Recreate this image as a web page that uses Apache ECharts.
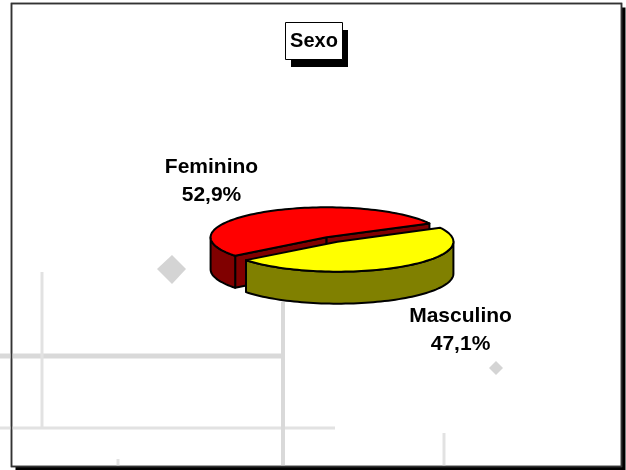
<!DOCTYPE html>
<html>
<head>
<meta charset="utf-8">
<script src="https://cdn.jsdelivr.net/npm/echarts@6/dist/echarts.min.js"></script>
<style>
  html, body { margin: 0; padding: 0; background: #fff; }
  #sexo { width: 626px; height: 470px; }
</style>
</head>
<body>
<div id="sexo"></div>
<script>
// dados do gráfico
var categories = ['Feminino', 'Masculino'];
var shares = [52.9, 47.1];
var chartTitle = 'Sexo';

// cores (topo / lateral) de cada fatia
var topColors = ['#ff0000', '#ffff00'];
var sideColors = ['#800000', '#808000'];

// geometria da pizza "3D"
var CX = 332, CY = 239.5, RX = 116, RY = 30, DEPTH = 32, EXPLODE = 10, START = 142;

var total = shares.reduce(function (a, b) { return a + b; }, 0);

function rad(d) { return d * Math.PI / 180; }
function pt(cx, cy, deg, dy) {
    return [cx + RX * Math.cos(rad(deg)), cy + RY * Math.sin(rad(deg)) + (dy || 0)];
}
function arc(cx, cy, a0, a1, dy) {
    var pts = [], n = Math.max(2, Math.ceil(Math.abs(a1 - a0) / 2));
    for (var k = 0; k <= n; k++) pts.push(pt(cx, cy, a0 + (a1 - a0) * k / n, dy));
    return pts;
}
function fmt(v) { return v.toFixed(1).replace('.', ',') + '%'; }

var edge = { stroke: '#000', lineWidth: 2, lineJoin: 'round' };
function poly(points, fill, z2) {
    return {
        type: 'polygon', z2: z2,
        shape: { points: points },
        style: Object.assign({ fill: fill }, edge)
    };
}

function renderSlice(params, api) {
    var i = params.dataIndex;
    var before = 0;
    for (var j = 0; j < i; j++) before += shares[j];
    var a0 = START + 360 * before / total;
    var a1 = a0 + 360 * api.value(0) / total;
    var mid = (a0 + a1) / 2;
    var cx = CX + EXPLODE * Math.cos(rad(mid));
    var cy = CY + EXPLODE * Math.sin(rad(mid)) * RY / RX;
    var base = i * 10;
    var children = [];

    // faces de corte (só as que ficam de frente)
    [[a0, a0 - 90], [a1, a1 + 90]].forEach(function (f) {
        if (Math.sin(rad(f[1])) > 0) {
            var p = pt(cx, cy, f[0]);
            children.push(poly([[cx, cy], p, [p[0], p[1] + DEPTH], [cx, cy + DEPTH]], sideColors[i], base + 1));
        }
    });

    // parede lateral visível (metade da frente)
    for (var k = -1; k <= 2; k++) {
        var lo = Math.max(a0, 360 * k), hi = Math.min(a1, 360 * k + 180);
        if (hi > lo) {
            var wall = arc(cx, cy, lo, hi, 0).concat(arc(cx, cy, hi, lo, DEPTH));
            children.push(poly(wall, sideColors[i], base + 2));
        }
    }

    // topo
    children.push(poly([[cx, cy]].concat(arc(cx, cy, a0, a1, 0)), topColors[i], base + 3));

    // rótulo
    var s = Math.sin(rad(mid));
    children.push({
        type: 'text', z2: base + 4,
        x: cx + Math.cos(rad(mid)) * 220 + 4,
        y: cy + s * 67 + (s > 0 ? DEPTH : 0),
        style: {
            text: categories[i] + '\n' + fmt(api.value(0)),
            fill: '#000',
            font: 'bold 21px "Liberation Sans", Arial, sans-serif',
            lineHeight: 28,
            align: 'center',
            verticalAlign: 'middle'
        }
    });
    return { type: 'group', children: children };
}

var chart = echarts.init(document.getElementById('sexo'));
var lineGray = '#d9d9d9';
var option = {
    backgroundColor: '#fff',
    animation: false,
    graphic: [
        // moldura com sombra
        { type: 'rect', z: -10, shape: { x: 15.5, y: 7.5, width: 610, height: 463 }, style: { fill: '#000' } },
        { type: 'rect', z: -9, shape: { x: 11.5, y: 3.5, width: 610, height: 463 }, style: { fill: '#fff', stroke: '#333', lineWidth: 1.5 } },
        // fundo decorativo
        { type: 'line', z: -8, shape: { x1: 0, y1: 356, x2: 283, y2: 356 }, style: { stroke: lineGray, lineWidth: 5 } },
        { type: 'line', z: -8, shape: { x1: 0, y1: 428, x2: 335, y2: 428 }, style: { stroke: '#e2e2e2', lineWidth: 3 } },
        { type: 'line', z: -8, shape: { x1: 42, y1: 272, x2: 42, y2: 427 }, style: { stroke: '#e2e2e2', lineWidth: 3 } },
        { type: 'line', z: -8, shape: { x1: 283, y1: 302, x2: 283, y2: 466 }, style: { stroke: lineGray, lineWidth: 4 } },
        { type: 'line', z: -8, shape: { x1: 444, y1: 433, x2: 444, y2: 466 }, style: { stroke: '#e2e2e2', lineWidth: 3 } },
        { type: 'line', z: -8, shape: { x1: 118, y1: 459, x2: 118, y2: 466 }, style: { stroke: '#e2e2e2', lineWidth: 3 } },
        { type: 'polygon', z: -8, shape: { points: [[172, 255], [186, 269], [172, 284], [157, 269]] }, style: { fill: '#d4d4d4' } },
        { type: 'polygon', z: -8, shape: { points: [[496, 361], [503, 368], [496, 375], [489, 368]] }, style: { fill: '#d4d4d4' } },
        { type: 'rect', z: -7, shape: { x: 11.5, y: 3.5, width: 610, height: 463 }, style: { fill: 'none', stroke: '#333', lineWidth: 1.5 } },
        // título em caixa com sombra
        { type: 'rect', z: 5, shape: { x: 291, y: 30, width: 57, height: 37 }, style: { fill: '#000' } },
        { type: 'rect', z: 6, shape: { x: 285.5, y: 22.5, width: 57, height: 37 }, style: { fill: '#fff', stroke: '#000', lineWidth: 1 } },
        {
            type: 'text', z: 7, x: 314, y: 41.5,
            style: {
                text: chartTitle, fill: '#000',
                font: 'bold 20px "Liberation Sans", Arial, sans-serif',
                align: 'center', verticalAlign: 'middle'
            }
        }
    ],
    series: [{
        type: 'custom',
        coordinateSystem: 'none',
        renderItem: renderSlice,
        data: shares.map(function (v, i) { return { name: categories[i], value: v }; })
    }]
};
chart.setOption(option);
</script>
</body>
</html>
